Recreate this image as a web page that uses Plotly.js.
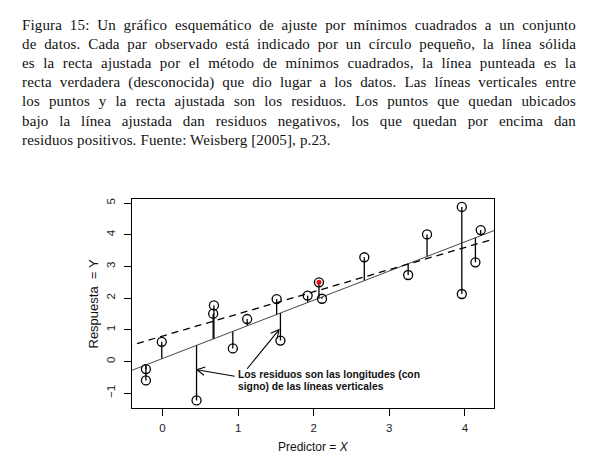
<!DOCTYPE html>
<html><head><meta charset="utf-8">
<script src="https://cdn.plot.ly/plotly-3.0.1.min.js"></script>
<style>
body{margin:0;width:590px;height:467px;overflow:hidden;background:#fff;}
#plot{position:absolute;left:0;top:0;width:590px;height:467px;}
#cap{position:absolute;left:22px;top:0;width:554px;font-family:"Liberation Serif","Times New Roman",serif;font-size:15px;letter-spacing:0.15px;color:#111;}
.ln{position:absolute;left:0;width:554px;height:19px;line-height:19px;text-align:justify;text-align-last:justify;}
.last{text-align-last:left;}
</style></head>
<body>
<div id="plot"></div>
<div id="cap"></div>
<script>
// ---- caption lines ----
const captionLines = [
  "Figura 15: Un gráfico esquemático de ajuste por mínimos cuadrados a un conjunto",
  "de datos. Cada par observado está indicado por un círculo pequeño, la línea sólida",
  "es la recta ajustada por el método de mínimos cuadrados, la línea punteada es la",
  "recta verdadera (desconocida) que dio lugar a los datos. Las líneas verticales entre",
  "los puntos y la recta ajustada son los residuos. Los puntos que quedan ubicados",
  "bajo la línea ajustada dan residuos negativos, los que quedan por encima dan",
  "residuos positivos. Fuente: Weisberg [2005], p.23."
];

// ---- data ----
const xObs = [-0.22,-0.22,-0.01,0.45,0.68,0.67,0.93,1.12,1.51,1.56,1.92,2.07,2.11,2.67,3.25,3.50,3.96,3.96,4.14,4.21];
const yObs = [-0.24,-0.60,0.62,-1.23,1.77,1.51,0.41,1.34,1.97,0.66,2.08,2.50,1.98,3.29,2.73,4.01,4.88,2.13,3.13,4.15];
const highlightIndex = 11;          // point drawn with red fill
const trueIntercept = 0.8;          // "true" (unknown) line
const trueSlope = 0.7;
const xTicks = [0,1,2,3,4];
const yTicks = [-1,0,1,2,3,4,5];
const yTickText = ["\u22121","0","1","2","3","4","5"];
const noteLines = ["Los residuos son las longitudes (con", "signo) de las líneas verticales"];
const noteX = 0.99;
const noteY = [-0.42, -0.79];
const arrows = [
  {tail:[0.955,-0.47], tip:[0.454,-0.26]},
  {tail:[1.12,-0.23], tip:[1.54,1.00]}
];

// caption
const cap = document.getElementById('cap');
captionLines.forEach((t,i)=>{
  const d = document.createElement('div');
  d.className = 'ln' + (i===captionLines.length-1 ? ' last' : '');
  d.style.top = (15.5 + i*19.2) + 'px';
  d.textContent = t;
  cap.appendChild(d);
});

// least squares fit
const n = xObs.length;
const mx = xObs.reduce((a,b)=>a+b,0)/n;
const my = yObs.reduce((a,b)=>a+b,0)/n;
let sxy=0, sxx=0;
for(let i=0;i<n;i++){ sxy += (xObs[i]-mx)*(yObs[i]-my); sxx += (xObs[i]-mx)**2; }
const b1 = sxy/sxx, b0 = my - b1*mx;

const xr = [-0.404, 4.386], yr = [-1.47, 5.13];
const M = {l:132, r:96, t:199, b:59};
const W = 590, H = 467;
const pxX = (W-M.l-M.r)/(xr[1]-xr[0]);
const pxY = (H-M.t-M.b)/(yr[1]-yr[0]);

const rx=[], ry=[];
for(let i=0;i<n;i++){ rx.push(xObs[i],xObs[i],null); ry.push(yObs[i], b0+b1*xObs[i], null); }
const lineX = [xr[0]-1, xr[1]+1];

const traces = [
  {x:rx, y:ry, mode:'lines', line:{color:'#000', width:1.3}, hoverinfo:'skip'},
  {x:lineX, y:lineX.map(v=>b0+b1*v), mode:'lines', line:{color:'#333', width:0.9}},
  {x:lineX, y:lineX.map(v=>trueIntercept+trueSlope*v), mode:'lines', line:{color:'#000', width:1.3, dash:'7px,5px'}},
  {x:xObs, y:yObs, mode:'markers', marker:{symbol:'circle-open', size:9, color:'#000', line:{width:1.3, color:'#000'}}},
  {x:[xObs[highlightIndex]], y:[yObs[highlightIndex]], mode:'markers', marker:{symbol:'circle', size:5, color:'#e01010'}}
];

const shapes = [];
arrows.forEach(a=>{
  shapes.push({type:'line', xref:'x', yref:'y', x0:a.tail[0], y0:a.tail[1], x1:a.tip[0], y1:a.tip[1], line:{color:'#000', width:1.1}});
  const dx = (a.tip[0]-a.tail[0])*pxX, dy = -(a.tip[1]-a.tail[1])*pxY;
  const L = Math.hypot(dx,dy), ux = dx/L, uy = dy/L;
  const hl = 9, ang = 28*Math.PI/180;
  const pts = [ang,-ang].map(t=>{
    const rxv = ux*Math.cos(t) - uy*Math.sin(t);
    const ryv = ux*Math.sin(t) + uy*Math.cos(t);
    return [a.tip[0] - hl*rxv/pxX, a.tip[1] + hl*ryv/pxY];
  });
  shapes.push({type:'path', xref:'x', yref:'y',
    path:`M${pts[0][0]},${pts[0][1]} L${a.tip[0]},${a.tip[1]} L${pts[1][0]},${pts[1][1]}`,
    line:{color:'#000', width:1.1}});
});

const sans = 'Liberation Sans, Arial, sans-serif';
const tickFont = {family:sans, size:11.5, color:'#222'};
const annotations = noteLines.map((t,i)=>({
  x:noteX, y:noteY[i], xref:'x', yref:'y', text:'<b>'+t+'</b>', showarrow:false,
  xanchor:'left', yanchor:'middle', align:'left', borderpad:0,
  font:{family:sans, size:10.3, color:'#111'}
}));
annotations.push(
  {xref:'paper', yref:'paper', x:0, y:0.5, xshift:-39, xanchor:'center', yanchor:'middle', textangle:-90, showarrow:false,
    text:'Respuesta\u00a0\u00a0=\u00a0Y', font:{family:sans, size:13, color:'#111'}},
  {xref:'paper', yref:'paper', x:0.5, y:0, yshift:-38.5, xanchor:'center', yanchor:'middle', showarrow:false,
    text:'Predictor = <i>X</i>', font:{family:sans, size:12, color:'#111'}}
);

const layout = {
  width:W, height:H, margin:M, showlegend:false,
  paper_bgcolor:'rgba(0,0,0,0)', plot_bgcolor:'rgba(0,0,0,0)',
  xaxis:{range:xr, tickvals:xTicks, ticks:'outside', ticklen:7, tickcolor:'#000', tickwidth:1,
    showline:true, mirror:true, linecolor:'#000', linewidth:1, showgrid:false, zeroline:false,
    tickfont:tickFont, ticklabelstandoff:2, fixedrange:true},
  yaxis:{range:yr, tickvals:yTicks, ticktext:yTickText, ticks:'outside', ticklen:7, tickcolor:'#000', tickwidth:1,
    showline:true, mirror:true, linecolor:'#000', linewidth:1, showgrid:false, zeroline:false,
    tickfont:tickFont, tickangle:-90, ticklabelstandoff:4, fixedrange:true},
  shapes:shapes,
  annotations:annotations
};
Plotly.newPlot('plot', traces, layout, {displayModeBar:false, staticPlot:true});
</script>
</body></html>
